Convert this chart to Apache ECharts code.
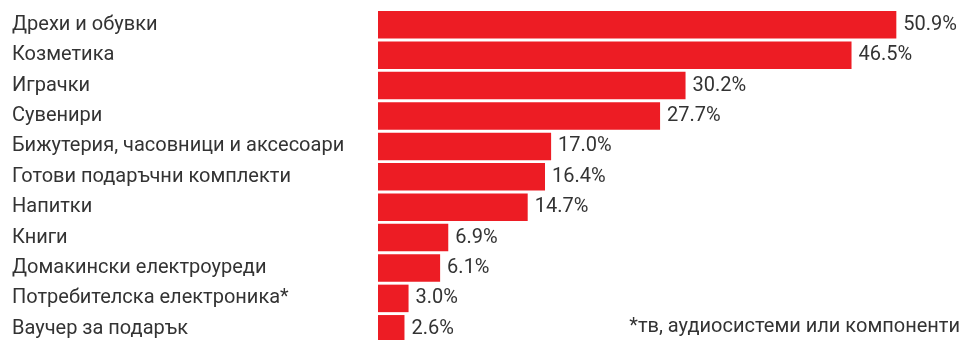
<!DOCTYPE html>
<html><head><meta charset="utf-8">
<script src="https://cdn.jsdelivr.net/npm/echarts@6/dist/echarts.min.js"></script>
<style>html,body{margin:0;padding:0;background:#fff}#c{width:963px;height:340px}</style>
</head><body><div id="c"></div>
<script>
const categories = ["Дрехи и обувки","Козметика","Играчки","Сувенири","Бижутерия, часовници и аксесоари","Готови подаръчни комплекти","Напитки","Книги","Домакински електроуреди","Потребителска електроника*","Ваучер за подарък"];
const values = [50.9,46.5,30.2,27.7,17.0,16.4,14.7,6.9,6.1,3.0,2.6];
const footnote = "*тв, аудиосистеми или компоненти";
const font = "Roboto, 'DejaVu Sans', sans-serif";
const chart = echarts.init(document.getElementById('c'));
chart.setOption({
  animation:false,
  grid:{left:378, top:9.6, width:611, height:334.4, containLabel:false, outerBoundsMode:'none'},
  xAxis:{type:'value', min:0, max:60, show:false},
  yAxis:{type:'category', data:categories, inverse:true,
    axisLine:{show:false}, axisTick:{show:false},
    axisLabel:{align:'left', margin:366, color:'#333', fontSize:20, fontFamily:font}},
  series:[{type:'bar', data:values, barCategoryGap:'9.5%',
    itemStyle:{color:'#ed1c24'},
    label:{show:true, position:'right', distance:7, color:'#333', fontSize:20, fontFamily:font,
      formatter:p=>p.value.toFixed(1)+'%'}}],
  graphic:[{type:'text', right:3, top:317, style:{text:footnote, fill:'#333', fontSize:20, fontFamily:font}}]
});
</script></body></html>
